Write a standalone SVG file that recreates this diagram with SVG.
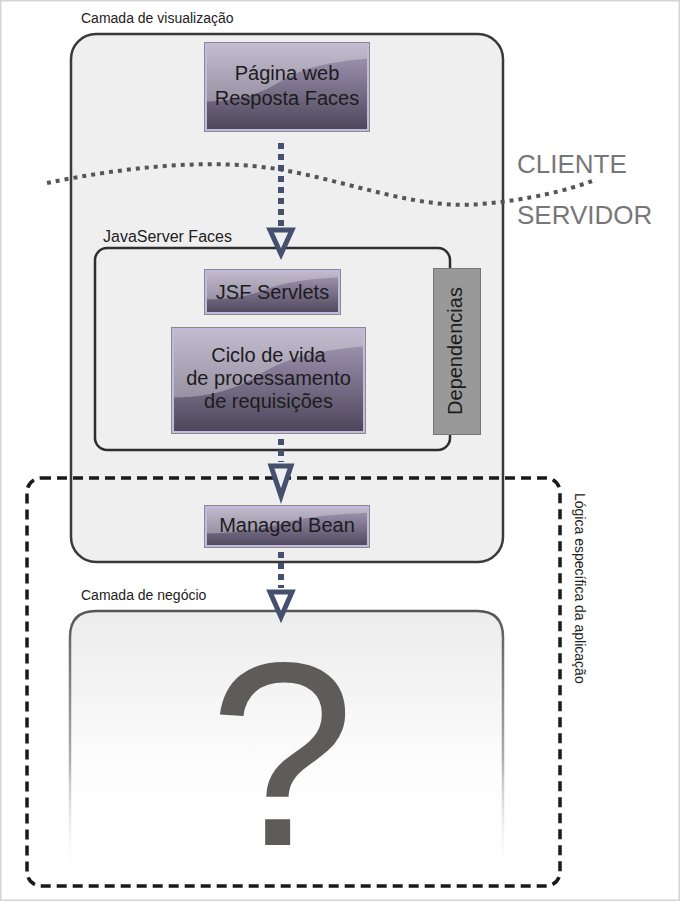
<svg xmlns="http://www.w3.org/2000/svg" width="680" height="901" viewBox="0 0 680 901">
<defs>
  <linearGradient id="nodeGrad" x1="0" y1="0" x2="0" y2="1">
    <stop offset="0" stop-color="#aaa2ba"/>
    <stop offset="0.4" stop-color="#857b97"/>
    <stop offset="1" stop-color="#4b4457"/>
  </linearGradient>
  <linearGradient id="bizFill" x1="0" y1="0" x2="0" y2="1">
    <stop offset="0" stop-color="#ececec"/>
    <stop offset="0.6" stop-color="#fdfdfd"/>
    <stop offset="1" stop-color="#ffffff"/>
  </linearGradient>
  <linearGradient id="bizStroke" x1="0" y1="0" x2="0" y2="1">
    <stop offset="0" stop-color="#555555"/>
    <stop offset="0.55" stop-color="#777777" stop-opacity="0.6"/>
    <stop offset="1" stop-color="#ffffff" stop-opacity="0"/>
  </linearGradient>
  <symbol id="nodeBg" viewBox="0 0 100 100" preserveAspectRatio="none">
    <rect x="0" y="0" width="100" height="100" fill="url(#nodeGrad)"/>
    <path d="M0,0 H100 V18 C75,22 60,28 45,45 C30,62 15,66 0,66 Z" fill="#ffffff" fill-opacity="0.3"/>
  </symbol>
</defs>
<style>
  .lbl { font-family: "Liberation Sans", Arial, sans-serif; fill: #222222; font-size: 14px; }
  .ntxt { font-family: "Liberation Sans", Arial, sans-serif; fill: #1c1c1c; font-size: 20px; text-anchor: middle; }
  .side { font-family: "Liberation Sans", Arial, sans-serif; fill: #777777; font-size: 26px; }
  .qmark { font-family: "Liberation Sans", Arial, sans-serif; fill: #5f5b5a; font-size: 262px; text-anchor: middle; }
  .inner { fill: none; stroke: #c2bade; stroke-width: 3; }
  .outer { fill: none; stroke: #8a8a8a; stroke-width: 1; }
  .flow { stroke: #44506e; stroke-width: 6; stroke-dasharray: 6 5; fill: none; }
  .head { stroke: #44506e; stroke-width: 5; stroke-linejoin: miter; }
</style>

<rect x="0.75" y="0.75" width="678.5" height="899.5" fill="#ffffff" stroke="#d4d4d4" stroke-width="1.5"/>

<!-- View layer -->
<g id="view-layer">
  <rect x="71" y="34" width="432" height="528" rx="25" ry="25" fill="#efefef" stroke="#3a3a3a" stroke-width="2.5"/>
  <text class="lbl" x="81" y="23">Camada de visualização</text>
</g>

<!-- Business layer -->
<g id="business-layer">
  <path d="M70,880 V637 Q70,611 96,611 H477 Q503,611 503,637 V880" fill="url(#bizFill)" stroke="url(#bizStroke)" stroke-width="2.5"/>
  <text class="lbl" x="81" y="600">Camada de negócio</text>
  <text class="qmark" x="282" y="845">?</text>
</g>

<!-- JSF group -->
<g id="jsf-group">
  <rect x="95" y="248" width="355" height="202" rx="12" ry="12" fill="none" stroke="#2e2e2e" stroke-width="2.5"/>
  <text class="lbl" x="103" y="242" style="font-size:16px">JavaServer Faces</text>
</g>

<!-- Client/Server divider -->
<g id="divider">
  <path d="M47,183 C120,168 210,157 283,170 C350,182 420,210 480,204 C530,200 568,190 592,181" fill="none" stroke="#555555" stroke-width="4" stroke-dasharray="4 5"/>
  <text class="side" x="517" y="173">CLIENTE</text>
  <text class="side" x="517" y="224">SERVIDOR</text>
</g>

<!-- Nodes -->
<g id="pagina-web">
  <use href="#nodeBg" x="204" y="42" width="166" height="90"/>
  <rect class="inner" x="205.5" y="43.5" width="163" height="87"/>
  <rect class="outer" x="204.5" y="42.5" width="165" height="89"/>
  <text class="ntxt" x="287" y="80">Página web</text>
  <text class="ntxt" x="287" y="105">Resposta Faces</text>
</g>

<g id="jsf-servlets">
  <use href="#nodeBg" x="204" y="269" width="137" height="46"/>
  <rect class="inner" x="205.5" y="270.5" width="134" height="43"/>
  <rect class="outer" x="204.5" y="269.5" width="136" height="45"/>
  <text class="ntxt" x="272.5" y="299">JSF Servlets</text>
</g>

<g id="ciclo-de-vida">
  <use href="#nodeBg" x="171" y="327" width="195" height="107"/>
  <rect class="inner" x="172.5" y="328.5" width="192" height="104"/>
  <rect class="outer" x="171.5" y="327.5" width="194" height="106"/>
  <text class="ntxt" x="268.5" y="362">Ciclo de vida</text>
  <text class="ntxt" x="268.5" y="385">de processamento</text>
  <text class="ntxt" x="268.5" y="408">de requisições</text>
</g>

<g id="dependencias">
  <rect x="433.5" y="268.5" width="47" height="166" fill="#999999" stroke="#777777" stroke-width="1"/>
  <text class="ntxt" transform="translate(462,351) rotate(-90)" x="0" y="0">Dependencias</text>
</g>

<g id="managed-bean">
  <use href="#nodeBg" x="204" y="505" width="166" height="43"/>
  <rect class="inner" x="205.5" y="506.5" width="163" height="40"/>
  <rect class="outer" x="204.5" y="505.5" width="165" height="42"/>
  <text class="ntxt" x="287" y="532">Managed Bean</text>
</g>

<!-- Application-specific logic boundary -->
<g id="app-logic">
  <rect x="27" y="478" width="533" height="408" rx="14" ry="14" fill="none" stroke="#1a1a1a" stroke-width="3.5" stroke-dasharray="10 6"/>
  <text class="lbl" transform="translate(575,493) rotate(90)" x="0" y="0">Lógica específica da aplicação</text>
</g>

<!-- Connectors -->
<g id="connectors">
  <line class="flow" x1="281" y1="143" x2="281" y2="228"/>
  <polygon class="head" points="270,230 292,230 281,254" fill="#efefef"/>

  <line class="flow" x1="281" y1="439" x2="281" y2="462"/>
  <polygon class="head" points="271,466 291,466 281,496" fill="#efefef"/>

  <line class="flow" x1="281" y1="552" x2="281" y2="588"/>
  <polygon class="head" points="270,592 292,592 281,617" fill="#ffffff"/>
</g>
</svg>
